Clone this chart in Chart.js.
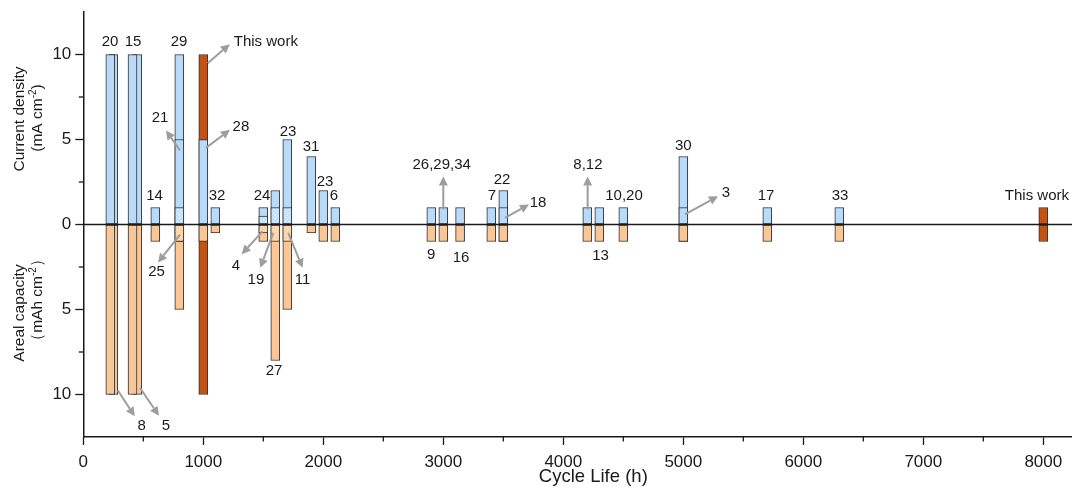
<!DOCTYPE html>
<html>
<head>
<meta charset="utf-8">
<script src="https://cdn.jsdelivr.net/npm/chart.js@4.4.1/dist/chart.umd.min.js"></script>
<style>
  html, body { margin: 0; padding: 0; overflow: hidden; background: #fff; }
  #wrap { width: 1072px; height: 491px; overflow: hidden; position: relative; }
  canvas { display: block; }
</style>
</head>
<body>
<div id="wrap"><canvas id="chart" width="1110" height="491"></canvas></div>
<script>
const FONT = '"Liberation Sans", Arial, Helvetica, sans-serif';
const INK = '#1a1a1a';

// Reported zinc anodes: cycle life (h), current density (mA cm-2), areal capacity (mAh cm-2)
const reportedCycle    = [250, 225, 450, 410, 600, 800, 800, 1000, 1100, 1500, 1600, 1700, 1900, 2000, 2100, 2900, 3000, 3140, 3400, 3500, 3500, 4200, 4300, 4500, 5000, 5000, 5700, 6300];
const reportedCurrent  = [10, 10, 10, 10, 1, 10, 5, 5, 1, 1, 2, 5, 4, 2, 1, 1, 1, 1, 1, 2, 1, 1, 1, 1, 4, 1, 1, 1];
const reportedCapacity = [10, 10, 10, 10, 1, 5, 1, 1, 0.5, 1, 8, 5, 0.5, 1, 1, 1, 1, 1, 1, 1, 1, 1, 1, 1, 1, 1, 1, 1];

// Low-rate works sharing a cycle life with another entry (dotted overlay)
const overlapCycle    = [800, 1500, 1600, 1700];
const overlapCurrent  = [1, 0.5, 1, 1];
const overlapCapacity = [1, 0.5, 1, 1];

// This work
const thisWorkCycle    = [1000, 8000];
const thisWorkCurrent  = [10, 1];
const thisWorkCapacity = [10, 1];

// Axis ticks
const xTicks = [0, 1000, 2000, 3000, 4000, 5000, 6000, 7000, 8000];
const xMinorTicks = [500, 1500, 2500, 3500, 4500, 5500, 6500, 7500];
const yTicks = [-10, -5, 0, 5, 10];
const yMinorTicks = [-7.5, -2.5, 2.5, 7.5];

// Reference numbers placed next to the bars: [text, cycle life, value]
const barNotes = [
  ['20', 223, 10.72], ['15', 415, 10.72], ['29', 798, 10.72],
  ['14', 594, 1.66], ['32', 1114, 1.66], ['24', 1489, 1.66],
  ['23', 1706, 5.45], ['31', 1898, 4.55], ['23', 2014, 2.5], ['6', 2089, 1.66],
  ['27', 1589, -8.63], ['9', 2898, -1.76], ['16', 3148, -1.96],
  ['7', 3406, 1.66], ['22', 3489, 2.6], ['13', 4310, -1.86], ['10,20', 4506, 1.66],
  ['30', 5000, 4.6], ['17', 5689, 1.66], ['33', 6306, 1.66], ['This work', 7947, 1.66]
];

// Arrow callouts: [text, tail cycle life, tail value, tip offset px, text offset px, align]
const arrowNotes = [
  ['This work', 1037, 9.49, [22, -19], [26, -21], 'left'],
  ['21', 806, 4.35, [-14, -20], [-20, -33], 'center'],
  ['28', 1022, 4.51, [24, -18], [35, -21], 'center'],
  ['25', 806, -0.59, [-22, 28], [-23.5, 37], 'center'],
  ['8', 287, -9.75, [17, 26], [24, 36], 'center'],
  ['5', 472, -9.6, [19, 28], [26, 38.4], 'center'],
  ['4', 1495, -0.39, [-21, 23], [-26.7, 35], 'center'],
  ['19', 1583, -0.49, [-13, 35], [-17.3, 46.7], 'center'],
  ['11', 1708, -0.49, [14.4, 35], [14.2, 46.7], 'center'],
  ['26,29,34', 3000, 0.88, [0, -33], [-1.6, -45], 'center'],
  ['18', 3514, 0.39, [24, -13.3], [33, -15], 'center'],
  ['8,12', 4203, 0.88, [0, -33], [0.3, -45], 'center'],
  ['3', 5014, 0.59, [33, -18.3], [41, -21.7], 'center']
];

const BLUE = '#B9DAF8';
const PEACH = '#F9C698';
const RUST = '#BF5416';
const EDGE = '#2e2e2e';

function dotted(base) {
  const tile = document.createElement('canvas');
  tile.width = 4; tile.height = 4;
  const g = tile.getContext('2d');
  g.fillStyle = base; g.fillRect(0, 0, 4, 4);
  g.fillStyle = 'rgba(255,255,255,0.9)';
  g.fillRect(1, 1, 1, 1);
  g.fillRect(3, 3, 1, 1);
  return g.createPattern(tile, 'repeat');
}

const toPoints = (xs, ys, sign) => xs.map((x, i) => ({ x, y: sign * ys[i] }));

function barSet(label, xs, ys, sign, fill, order) {
  return {
    label, data: toPoints(xs, ys, sign), backgroundColor: fill,
    borderColor: EDGE, borderWidth: 1, borderSkipped: false,
    barThickness: 9, stack: 'all', order
  };
}

// Zero line, arrows and reference numbers drawn over the bars
const notesPlugin = {
  id: 'notes',
  afterDatasetsDraw(chart) {
    const { ctx, chartArea: a, scales: { x, y } } = chart;
    ctx.save();
    const y0 = y.getPixelForValue(0);
    ctx.strokeStyle = INK; ctx.lineWidth = 1.5;
    ctx.beginPath(); ctx.moveTo(a.left, y0); ctx.lineTo(a.right, y0); ctx.stroke();

    ctx.font = '15px ' + FONT;
    ctx.fillStyle = INK;
    ctx.textBaseline = 'middle';
    barNotes.forEach(([t, cx, cy]) => {
      ctx.textAlign = 'center';
      ctx.fillText(t, x.getPixelForValue(cx), y.getPixelForValue(cy));
    });

    arrowNotes.forEach(([t, cx, cy, tip, at, align]) => {
      const px = x.getPixelForValue(cx), py = y.getPixelForValue(cy);
      const tx = px + tip[0], ty = py + tip[1];
      const ang = Math.atan2(ty - py, tx - px);
      const hl = 9, hw = 4.5;
      const bx = tx - hl * Math.cos(ang), by = ty - hl * Math.sin(ang);
      ctx.strokeStyle = '#9d9d9d'; ctx.fillStyle = '#9d9d9d'; ctx.lineWidth = 2;
      ctx.beginPath(); ctx.moveTo(px, py); ctx.lineTo(bx, by); ctx.stroke();
      ctx.beginPath();
      ctx.moveTo(tx, ty);
      ctx.lineTo(bx + hw * Math.sin(ang), by - hw * Math.cos(ang));
      ctx.lineTo(bx - hw * Math.sin(ang), by + hw * Math.cos(ang));
      ctx.closePath(); ctx.fill();
      ctx.fillStyle = INK;
      ctx.textAlign = align;
      ctx.fillText(t, px + at[0], py + at[1]);
    });
    ctx.restore();
  },
  afterDraw(chart) {
    const { ctx, chartArea: a, scales: { x, y } } = chart;
    ctx.save();
    ctx.strokeStyle = INK; ctx.lineWidth = 1.3;
    xMinorTicks.forEach(v => {
      const px = x.getPixelForValue(v);
      ctx.beginPath(); ctx.moveTo(px, a.bottom); ctx.lineTo(px, a.bottom + 4.5); ctx.stroke();
    });
    yMinorTicks.forEach(v => {
      const py = y.getPixelForValue(v);
      ctx.beginPath(); ctx.moveTo(a.left, py); ctx.lineTo(a.left - 4.5, py); ctx.stroke();
    });

    // two-part vertical axis title
    const title = (parts, cx, cy) => {
      ctx.save();
      ctx.translate(cx, cy); ctx.rotate(-Math.PI / 2);
      ctx.fillStyle = INK; ctx.textBaseline = 'middle'; ctx.textAlign = 'left';
      const big = '15.5px ' + FONT, small = '10px ' + FONT;
      let w = 0;
      parts.forEach(([s, sup]) => { ctx.font = sup ? small : big; w += ctx.measureText(s).width; });
      let xx = -w / 2;
      parts.forEach(([s, sup]) => {
        ctx.font = sup ? small : big;
        ctx.fillText(s, xx, sup ? -5 : 0);
        xx += ctx.measureText(s).width;
      });
      ctx.restore();
    };
    title([['Current density', false]], 20, 119);
    title([['(mA cm', false], ['-2', true], [')', false]], 38, 118);
    title([['Areal capacity', false]], 20, 313);
    title([['（mAh cm', false], ['-2', true], ['）', false]], 38, 300);
    ctx.restore();
  }
};

new Chart(document.getElementById('chart'), {
  type: 'bar',
  data: {
    datasets: [
      barSet('overlap current', overlapCycle, overlapCurrent, 1, dotted('#C6E1FA'), 0),
      barSet('overlap capacity', overlapCycle, overlapCapacity, -1, dotted('#FAD2AC'), 1),
      barSet('current density', reportedCycle, reportedCurrent, 1, BLUE, 2),
      barSet('areal capacity', reportedCycle, reportedCapacity, -1, PEACH, 3),
      barSet('this work current', thisWorkCycle, thisWorkCurrent, 1, RUST, 4),
      barSet('this work capacity', thisWorkCycle, thisWorkCapacity, -1, RUST, 5)
    ]
  },
  options: {
    responsive: false,
    animation: false,
    events: [],
    layout: { padding: { left: 0, right: 6.7, top: 12, bottom: 0 } },
    plugins: { legend: { display: false }, tooltip: { enabled: false } },
    scales: {
      x: {
        type: 'linear', min: 0, max: 8500, offset: false,
        afterBuildTicks: s => { s.ticks = xTicks.map(v => ({ value: v })); },
        afterFit: s => { s.height = 54; s.paddingLeft = 0; s.paddingRight = 0; },
        ticks: { color: INK, font: { family: FONT, size: 17 }, padding: 7, maxRotation: 0, autoSkip: false, callback: v => String(v) },
        grid: { offset: false, drawOnChartArea: false, drawTicks: true, tickLength: 8, tickColor: INK, tickWidth: 1.3 },
        border: { display: true, color: INK, width: 1.5 },
        title: { display: true, text: 'Cycle Life (h)', color: INK, font: { family: FONT, size: 18.5 }, padding: { top: 0, bottom: 3 } }
      },
      y: {
        type: 'linear', min: -12.5, max: 12.5, stacked: false,
        afterBuildTicks: s => { s.ticks = yTicks.map(v => ({ value: v })); },
        afterFit: s => { s.width = 83.3; s.paddingTop = 0; s.paddingBottom = 0; },
        ticks: { color: INK, font: { family: FONT, size: 17 }, padding: 4, callback: v => String(Math.abs(v)) },
        grid: { drawOnChartArea: false, drawTicks: true, tickLength: 8, tickColor: INK, tickWidth: 1.3 },
        border: { display: true, color: INK, width: 1.5 }
      }
    }
  },
  plugins: [notesPlugin]
});
</script>
</body>
</html>
